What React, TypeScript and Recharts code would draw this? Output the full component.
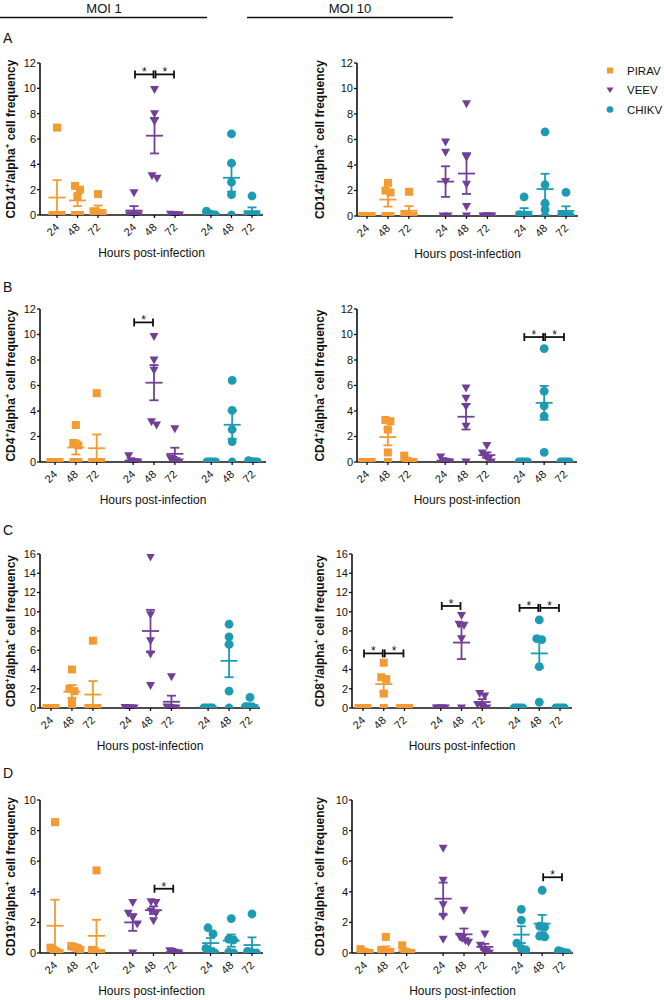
import React from "react";
import {
    ScatterChart,
    Scatter,
    XAxis,
    YAxis,
    ErrorBar,
    ReferenceLine,
} from "recharts";

const hours = ["24", "48", "72"];
const viruses = ["PIRAV", "VEEV", "CHIKV"];
const virusColors = ["#F39A32", "#713F98", "#1D9BB3"];
// x position of each virus/time column (PIRAV 24..72, VEEV 24..72, CHIKV 24..72)
const groupPos = [1, 2, 3, 4.75, 5.75, 6.75, 8.5, 9.5, 10.5];

const ticks10 = [0, 2, 4, 6, 8, 10];
const ticks12 = [0, 2, 4, 6, 8, 10, 12];
const ticks16 = [0, 2, 4, 6, 8, 10, 12, 14, 16];

// values[virus][time] = 5 donors
// A - CD14, MOI 1
const cd14Moi1Values = [
    [[6.9, 0, 0, 0, 0], [2.3, 2.0, 1.5, 0, 0], [1.65, 0.3, 0.2, 0.1, 0]],
    [[1.75, 0, 0, 0, 0], [9.9, 8.0, 7.4, 3.1, 2.9], [0.05, 0, 0, 0, 0]],
    [[0.3, 0.1, 0.05, 0, 0], [6.4, 4.1, 2.6, 1.6, 0], [1.5, 0, 0, 0, 0]],
];
const cd14Moi1Means = [[1.38, 1.15, 0.4], [0.35, 6.26, 0.01], [0.09, 2.94, 0.3]];
const cd14Moi1Sems = [[1.37, 0.45, 0.35], [0.35, 1.4, 0.01], [0.06, 1.1, 0.3]];
const cd14Moi1Stars = [{ v: 1, from: 0, to: 1, y: 11.1 }, { v: 1, from: 1, to: 2, y: 11.1 }];

// A - CD14, MOI 10
const cd14Moi10Values = [
    [[0, 0, 0, 0, 0], [2.6, 2.0, 1.85, 0, 0], [1.9, 0.1, 0.05, 0, 0]],
    [[5.8, 5.0, 2.7, 0, 0], [8.8, 4.6, 2.5, 0.75, 0], [0, 0, 0, 0, 0]],
    [[1.5, 0.1, 0.05, 0, 0], [6.6, 2.45, 1.0, 0.5, 0], [1.85, 0.1, 0.05, 0, 0]],
];
const cd14Moi10Means = [[0, 1.29, 0.41], [2.7, 3.33, 0], [0.33, 2.11, 0.4]];
const cd14Moi10Sems = [[0, 0.55, 0.37], [1.2, 1.6, 0], [0.29, 1.2, 0.36]];
const cd14Moi10Stars: Star[] = [];

// B - CD4, MOI 1
const cd4Moi1Values = [
    [[0, 0, 0, 0, 0], [2.9, 1.5, 1.3, 0, 0], [5.4, 0, 0, 0, 0]],
    [[0.5, 0.1, 0, 0, 0], [9.85, 8.0, 7.2, 3.15, 2.9], [2.6, 0.3, 0.2, 0.1, 0]],
    [[0, 0, 0, 0, 0], [6.4, 4.05, 2.55, 1.6, 0], [0.1, 0.05, 0, 0, 0]],
];
const cd4Moi1Means = [[0, 1.14, 1.08], [0.12, 6.22, 0.64], [0, 2.92, 0.03]];
const cd4Moi1Sems = [[0, 0.55, 1.08], [0.1, 1.38, 0.48], [0, 1.1, 0.02]];
const cd4Moi1Stars = [{ v: 1, from: 0, to: 1, y: 10.95 }];

// B - CD4, MOI 10
const cd4Moi10Values = [
    [[0, 0, 0, 0, 0], [3.3, 3.2, 2.55, 0.75, 0], [0.5, 0.1, 0.05, 0, 0]],
    [[0.4, 0.1, 0.05, 0, 0], [5.8, 5.0, 4.35, 2.8, 0], [1.3, 0.7, 0.5, 0.2, 0]],
    [[0, 0, 0, 0, 0], [8.9, 5.55, 4.4, 3.6, 0.75], [0, 0, 0, 0, 0]],
];
const cd4Moi10Means = [[0, 1.96, 0.13], [0.11, 3.55, 0.54], [0, 4.64, 0]];
const cd4Moi10Sems = [[0, 0.65, 0.1], [0.08, 1.0, 0.22], [0, 1.33, 0]];
const cd4Moi10Stars = [{ v: 2, from: 0, to: 1, y: 9.8 }, { v: 2, from: 1, to: 2, y: 9.8 }];

// C - CD8, MOI 1
const cd8Moi1Values = [
    [[0, 0, 0, 0, 0], [4.0, 2.0, 1.75, 0.75, 0], [7.0, 0, 0, 0, 0]],
    [[0.05, 0, 0, 0, 0], [15.7, 9.7, 7.0, 5.6, 2.35], [3.25, 0.1, 0.05, 0, 0]],
    [[0, 0, 0, 0, 0], [8.7, 7.4, 6.6, 1.75, 0], [1.1, 0.15, 0.1, 0.05, 0]],
];
const cd8Moi1Means = [[0, 1.7, 1.4], [0.01, 8.0, 0.65], [0, 4.9, 0.28]];
const cd8Moi1Sems = [[0, 0.68, 1.4], [0.01, 2.2, 0.63], [0, 1.7, 0.21]];
const cd8Moi1Stars: Star[] = [];

// C - CD8, MOI 10
const cd8Moi10Values = [
    [[0, 0, 0, 0, 0], [4.7, 3.2, 3.0, 1.5, 0], [0, 0, 0, 0, 0]],
    [[0, 0, 0, 0, 0], [9.6, 8.7, 8.6, 7.2, 0], [1.5, 1.25, 0.35, 0.2, 0]],
    [[0, 0, 0, 0, 0], [9.15, 7.2, 7.1, 4.3, 0.6], [0, 0, 0, 0, 0]],
];
const cd8Moi10Means = [[0, 2.48, 0], [0, 6.8, 0.62], [0, 5.67, 0]];
const cd8Moi10Sems = [[0, 0.8, 0], [0, 1.72, 0.3], [0, 1.5, 0]];
const cd8Moi10Stars = [
    { v: 0, from: 0, to: 1, y: 5.67 },
    { v: 0, from: 1, to: 2, y: 5.67 },
    { v: 1, from: 0, to: 1, y: 10.6 },
    { v: 2, from: 0, to: 1, y: 10.4 },
    { v: 2, from: 1, to: 2, y: 10.4 },
];

// D - CD19, MOI 1
const cd19Moi1Values = [
    [[8.55, 0.35, 0.2, 0.1, 0], [0.45, 0.4, 0.35, 0.3, 0.2], [5.4, 0.2, 0.1, 0, 0]],
    [[3.3, 2.6, 2.3, 1.9, 0], [3.35, 3.3, 2.75, 2.6, 2.1], [0.15, 0.1, 0.05, 0, 0]],
    [[1.65, 1.25, 0.3, 0.05, 0], [2.25, 0.9, 0.85, 0.05, 0], [2.55, 0.1, 0.05, 0, 0]],
];
const cd19Moi1Means = [[1.78, 0.34, 1.12], [2.0, 2.8, 0.06], [0.65, 0.81, 0.52]];
const cd19Moi1Sems = [[1.7, 0.04, 1.05], [0.55, 0.25, 0.03], [0.33, 0.4, 0.5]];
const cd19Moi1Stars = [{ v: 1, from: 1, to: 2, y: 4.2 }];

// D - CD19, MOI 10
const cd19Moi10Values = [
    [[0.25, 0.1, 0.05, 0, 0], [1.05, 0.2, 0.1, 0.05, 0], [0.5, 0.1, 0.05, 0, 0]],
    [[6.85, 4.75, 3.15, 2.4, 0.9], [2.8, 1.1, 0.95, 0.8, 0.7], [1.25, 0.5, 0.2, 0.1, 0]],
    [[2.85, 2.15, 0.65, 0.3, 0.2], [4.1, 1.75, 1.7, 1.1, 1.05], [0.15, 0.1, 0.05, 0, 0]],
];
const cd19Moi10Means = [[0.08, 0.28, 0.13], [3.55, 1.22, 0.4], [1.2, 1.92, 0.06]];
const cd19Moi10Sems = [[0.05, 0.15, 0.09], [1.05, 0.38, 0.2], [0.55, 0.57, 0.03]];
const cd19Moi10Stars = [{ v: 2, from: 1, to: 2, y: 4.95 }];

type Star = { v: number; from: number; to: number; y: number };
type Lay = {
    left: number; width: number; labelX: number;
    axisX: number; first: number; last: number; axisEnd: number;
    yTop: number; yZero: number;
};

const FONT = "Arial, 'Liberation Sans', Helvetica, sans-serif";
const INK = "#111";

const leftCol = { left: 0, width: 300, labelX: 14.5 };
const rightCol = { left: 300, width: 364, labelX: 323.5 };

const panels = [
    { id: "aL", cell: "CD14", yMax: 12, ticks: ticks12, values: cd14Moi1Values, means: cd14Moi1Means, sems: cd14Moi1Sems, stars: cd14Moi1Stars,
      lay: { ...leftCol, axisX: 40, first: 57, last: 252, axisEnd: 263, yTop: 63, yZero: 215 } },
    { id: "aR", cell: "CD14", yMax: 12, ticks: ticks12, values: cd14Moi10Values, means: cd14Moi10Means, sems: cd14Moi10Sems, stars: cd14Moi10Stars,
      lay: { ...rightCol, axisX: 357, first: 367, last: 566, axisEnd: 578, yTop: 63, yZero: 216 } },
    { id: "bL", cell: "CD4", yMax: 12, ticks: ticks12, values: cd4Moi1Values, means: cd4Moi1Means, sems: cd4Moi1Sems, stars: cd4Moi1Stars,
      lay: { ...leftCol, axisX: 40, first: 55, last: 253, axisEnd: 266, yTop: 309, yZero: 462 } },
    { id: "bR", cell: "CD4", yMax: 12, ticks: ticks12, values: cd4Moi10Values, means: cd4Moi10Means, sems: cd4Moi10Sems, stars: cd4Moi10Stars,
      lay: { ...rightCol, axisX: 357, first: 367, last: 565, axisEnd: 577, yTop: 309, yZero: 462 } },
    { id: "cL", cell: "CD8", yMax: 16, ticks: ticks16, values: cd8Moi1Values, means: cd8Moi1Means, sems: cd8Moi1Sems, stars: cd8Moi1Stars,
      lay: { ...leftCol, axisX: 40, first: 51, last: 250, axisEnd: 260, yTop: 554, yZero: 708 } },
    { id: "cR", cell: "CD8", yMax: 16, ticks: ticks16, values: cd8Moi10Values, means: cd8Moi10Means, sems: cd8Moi10Sems, stars: cd8Moi10Stars,
      lay: { ...rightCol, axisX: 352, first: 363, last: 560, axisEnd: 572, yTop: 554, yZero: 708 } },
    { id: "dL", cell: "CD19", yMax: 10, ticks: ticks10, values: cd19Moi1Values, means: cd19Moi1Means, sems: cd19Moi1Sems, stars: cd19Moi1Stars,
      lay: { ...leftCol, axisX: 40, first: 55, last: 252, axisEnd: 263, yTop: 800, yZero: 953 } },
    { id: "dR", cell: "CD19", yMax: 10, ticks: ticks10, values: cd19Moi10Values, means: cd19Moi10Means, sems: cd19Moi10Sems, stars: cd19Moi10Stars,
      lay: { ...rightCol, axisX: 352, first: 365, last: 563, axisEnd: 573, yTop: 800, yZero: 953 } },
];

// spread tied / near-tied donors sideways like a column scatter plot
function spreadColumn(vals: number[], base: number, tie: number, pxPerUnit: number) {
    const order = vals.map((_, i) => i).sort((a, b) => vals[b] - vals[a]);
    const out: { x: number; y: number }[] = [];
    let group: number[] = [];
    const flush = () => {
        const k = group.length;
        const span = k > 1 ? Math.min(5 * (k - 1), 9) : 0;
        group.forEach((i, j) => {
            const off = k > 1 ? -span / 2 + (span * j) / (k - 1) : 0;
            out.push({ x: base + off / pxPerUnit, y: vals[i] });
        });
        group = [];
    };
    order.forEach((i) => {
        if (group.length && vals[group[group.length - 1]] - vals[i] > tie) flush();
        group.push(i);
    });
    flush();
    return out;
}

const markerShape = (v: number) => (p: any) => {
    const { cx, cy } = p;
    const c = virusColors[v];
    if (v === 0) return <rect x={cx - 4} y={cy - 4} width={8} height={8} fill={c} />;
    if (v === 1)
        return <path d={`M${cx - 4.5},${cy - 3.5}L${cx + 4.5},${cy - 3.5}L${cx},${cy + 4.5}Z`} fill={c} />;
    return <circle cx={cx} cy={cy} r={4.4} fill={c} />;
};

const meanShape = (v: number) => (p: any) => (
    <line x1={p.cx - 8.5} x2={p.cx + 8.5} y1={p.cy} y2={p.cy} stroke={virusColors[v]} strokeWidth={1.8} />
);

const Bracket = (p: any) => {
    const a = Math.min(p.x1, p.x2) + 1;
    const b = Math.max(p.x1, p.x2) - 1;
    const y = p.y1;
    return (
        <g>
            <line x1={a} x2={b} y1={y} y2={y} stroke={INK} strokeWidth={1.8} />
            <line x1={a} x2={a} y1={y - 4} y2={y + 4} stroke={INK} strokeWidth={1.8} />
            <line x1={b} x2={b} y1={y - 4} y2={y + 4} stroke={INK} strokeWidth={1.8} />
            <text x={(a + b) / 2} y={y + 2} textAnchor="middle" fontSize={12} fill={INK}>*</text>
        </g>
    );
};

const HourTick = (p: any) => {
    const x = p.x + 3;
    const y = p.y + 8;
    const idx = p.index ?? groupPos.indexOf(p.payload.value);
    return (
        <text x={x} y={y} transform={`rotate(-45 ${x} ${y})`} textAnchor="end" fontSize={11} fill={INK}>
            {hours[idx % 3]}
        </text>
    );
};

const XTitle = (p: any) => {
    const vb = p.viewBox || {};
    return (
        <text x={vb.x + vb.width / 2} y={vb.y + 42} textAnchor="middle" fontSize={12} fill={INK}>
            Hours post-infection
        </text>
    );
};

const YTitle = (p: any) => {
    const vb = p.viewBox || {};
    const cy = vb.y + vb.height / 2;
    return (
        <text transform={`translate(${p.tx} ${cy}) rotate(-90)`} textAnchor="middle" fontSize={12} fontWeight="bold" fill={INK}>
            {p.cell}
            <tspan fontSize={8} dy={-5}>+</tspan>
            <tspan dy={5}>/alpha</tspan>
            <tspan fontSize={8} dy={-5}>+</tspan>
            <tspan dy={5}> cell frequency</tspan>
        </text>
    );
};

const Panel = ({ p }: { p: (typeof panels)[number] }) => {
    const lay: Lay = p.lay;
    const padTop = 20;
    const axisH = 48;
    const pxPerUnit = (lay.last - lay.first) / (groupPos[8] - groupPos[0]);
    const xMin = groupPos[0] - (lay.first - lay.axisX) / pxPerUnit;
    const xMax = groupPos[8] + (lay.axisEnd - lay.last) / pxPerUnit;
    const height = padTop + (lay.yZero - lay.yTop) + axisH;
    const tie = p.yMax * 0.04;

    const pointSets = viruses.map((_, v) =>
        p.values[v].flatMap((vals, t) => spreadColumn(vals, groupPos[v * 3 + t], tie, pxPerUnit))
    );
    const meanSets = viruses.map((_, v) =>
        hours.map((_, t) => ({ x: groupPos[v * 3 + t], y: p.means[v][t], sem: p.sems[v][t] }))
    );

    return (
        <div style={{ position: "absolute", left: lay.left, top: lay.yTop - padTop }}>
            <ScatterChart
                width={lay.width}
                height={height}
                margin={{ top: padTop, right: lay.left + lay.width - lay.axisEnd, bottom: 0, left: 0 }}
            >
                <XAxis
                    type="number"
                    dataKey="x"
                    domain={[xMin, xMax]}
                    allowDataOverflow
                    ticks={groupPos}
                    interval={0}
                    height={axisH}
                    tickSize={3}
                    tick={<HourTick />}
                    axisLine={{ stroke: INK, strokeWidth: 1.6 }}
                    tickLine={{ stroke: INK, strokeWidth: 1.3 }}
                    label={<XTitle />}
                />
                <YAxis
                    type="number"
                    dataKey="y"
                    domain={[0, p.yMax]}
                    allowDataOverflow
                    ticks={p.ticks}
                    interval={0}
                    width={lay.axisX - lay.left}
                    tickSize={3}
                    tickMargin={1}
                    tick={{ fontSize: 11, fill: INK }}
                    axisLine={{ stroke: INK, strokeWidth: 1.6 }}
                    tickLine={{ stroke: INK, strokeWidth: 1.3 }}
                    label={<YTitle cell={p.cell} tx={lay.labelX - lay.left} />}
                />
                {pointSets.map((data, v) => (
                    <Scatter
                        key={`pts-${v}`}
                        name={viruses[v]}
                        data={data}
                        fill={virusColors[v]}
                        shape={markerShape(v)}
                        isAnimationActive={false}
                    />
                ))}
                {meanSets.map((data, v) => (
                    <Scatter
                        key={`mean-${v}`}
                        data={data}
                        fill={virusColors[v]}
                        shape={meanShape(v)}
                        legendType="none"
                        isAnimationActive={false}
                    >
                        <ErrorBar
                            dataKey="sem"
                            direction="y"
                            width={4.5}
                            stroke={virusColors[v]}
                            strokeWidth={1.8}
                            isAnimationActive={false}
                        />
                    </Scatter>
                ))}
                {p.stars.map((s, i) => (
                    <ReferenceLine
                        key={`sig-${i}`}
                        segment={[
                            { x: groupPos[s.v * 3 + s.from], y: s.y },
                            { x: groupPos[s.v * 3 + s.to], y: s.y },
                        ]}
                        shape={Bracket}
                    />
                ))}
            </ScatterChart>
        </div>
    );
};

const Overlay = () => (
    <svg width={664} height={1000} style={{ position: "absolute", left: 0, top: 0, pointerEvents: "none" }}>
        <text x={104} y={13} textAnchor="middle" fontSize={13} fill={INK}>MOI 1</text>
        <line x1={0} x2={207} y1={17.5} y2={17.5} stroke={INK} strokeWidth={1.3} />
        <text x={350} y={13} textAnchor="middle" fontSize={13} fill={INK}>MOI 10</text>
        <line x1={247} x2={453} y1={17.5} y2={17.5} stroke={INK} strokeWidth={1.3} />
        <text x={3} y={43} fontSize={14} fill={INK}>A</text>
        <text x={3} y={292} fontSize={14} fill={INK}>B</text>
        <text x={3} y={535} fontSize={14} fill={INK}>C</text>
        <text x={3} y={778} fontSize={14} fill={INK}>D</text>
        {viruses.map((name, v) => {
            const cy = 70.5 + v * 19.5;
            const c = virusColors[v];
            return (
                <g key={name}>
                    {v === 0 && <rect x={607} y={cy - 3} width={6} height={6} fill={c} />}
                    {v === 1 && <path d={`M606.5,${cy - 2.5}L613.5,${cy - 2.5}L610,${cy + 3}Z`} fill={c} />}
                    {v === 2 && <circle cx={610} cy={cy} r={3.3} fill={c} />}
                    <text x={627} y={cy + 4} fontSize={11.5} fill={INK}>{name}</text>
                </g>
            );
        })}
    </svg>
);

export default function App() {
    return (
        <div style={{ position: "absolute", left: 0, top: 0, width: 664, height: 1000, background: "#fff", fontFamily: FONT }}>
            {panels.map((p) => (
                <Panel key={p.id} p={p} />
            ))}
            <Overlay />
        </div>
    );
}
